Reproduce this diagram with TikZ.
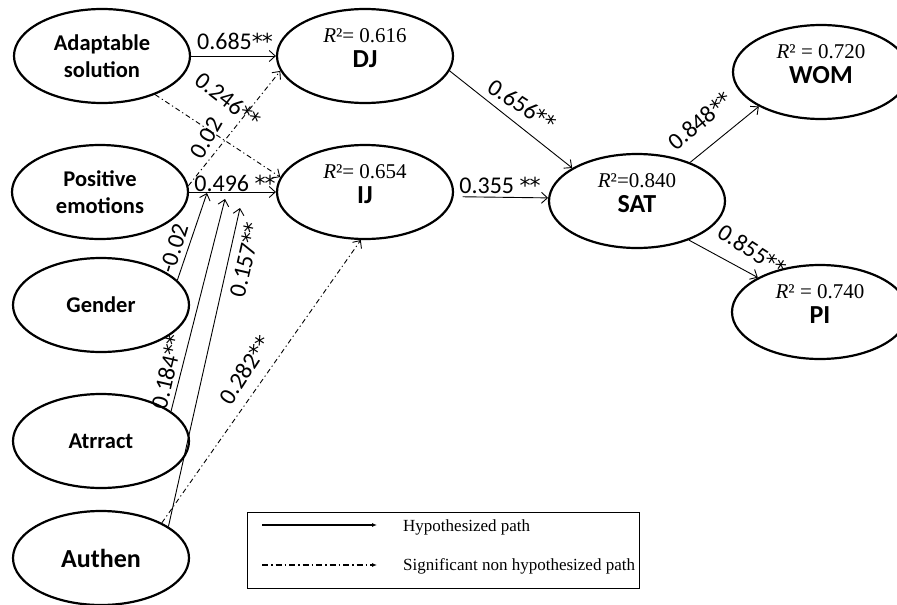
\documentclass[tikz,border=0pt]{standalone}
\usepackage{fontspec}
\setmainfont{Carlito}
\newfontfamily\timesfont{Liberation Serif}
\newfontfamily\starfont{DejaVu Sans}
\usepackage{tikz}
\usetikzlibrary{shapes.geometric}
\usetikzlibrary{arrows.meta}
\usetikzlibrary{calc}
\newcommand{\sigstars}{{\starfont\fontsize{22}{22}\selectfont*\kern-1pt*}}
\tikzset{
	latent/.style={ellipse, draw, line width=2.2pt, minimum width=176pt, minimum height=94pt, inner sep=0pt, align=center, font=\fontsize{22.5}{27}\selectfont\bfseries},
	rsq/.style={inner sep=0pt, font=\timesfont\fontsize{21}{23}\selectfont},
	cname/.style={inner sep=0pt, font=\fontsize{26}{28}\selectfont\bfseries},
	hyp/.style={line width=0.9pt, -{Straight Barb[length=6pt,width=11pt]}},
	nonhyp/.style={hyp, dash pattern=on 5pt off 3pt on 1.2pt off 3pt},
	coef/.style={inner sep=0pt, font=\fontsize{24}{26}\selectfont},
	legtext/.style={anchor=west, inner sep=0pt, font=\timesfont\fontsize{17}{19}\selectfont},
}

\begin{document}
\begin{tikzpicture}[x=1pt, y=-1pt]
	\useasboundingbox (0,0) rectangle (897,605);

	% exogenous constructs
	\node[latent] (adapt) at (102,56) {Adaptable\\solution};
	\node[latent] (posemo) at (100,192) {Positive\\emotions};
	\node[latent] (gender) at (101,305) {Gender};
	\node[latent] (atrract) at (101,441) {Atrract};
	\node[latent, font=\fontsize{26}{28}\selectfont\bfseries] (authen) at (101,558) {Authen};

	% endogenous constructs
	\node[latent] (dj) at (365,56) {};
		\node[rsq] (djr) at ($(dj)+(0,-20)$) {{\itshape R}²= 0.616};
		\node[cname] (djn) at ($(dj)+(0,3)$) {DJ};
	\node[latent] (ij) at (365,192) {};
		\node[rsq] (ijr) at ($(ij)+(0,-20)$) {{\itshape R}²= 0.654};
		\node[cname] (ijn) at ($(ij)+(0,3)$) {IJ};
	\node[latent] (sat) at (637,201) {};
		\node[rsq] (satr) at ($(sat)+(0,-20)$) {{\itshape R}²=0.840};
		\node[cname] (satn) at ($(sat)+(0,3)$) {SAT};
	\node[latent] (wom) at (821,72) {};
		\node[rsq] (womr) at ($(wom)+(0,-20)$) {{\itshape R}² = 0.720};
		\node[cname] (womn) at ($(wom)+(0,3)$) {WOM};
	\node[latent] (pi) at (820,312) {};
		\node[rsq] (pir) at ($(pi)+(0,-20)$) {{\itshape R}² = 0.740};
		\node[cname] (pin) at ($(pi)+(0,3)$) {PI};

	% {Adaptable -> DJ, IJ}
	\draw[hyp] (adapt) -- (dj);
	\node[coef] (c1) at (235,41) {0.685\sigstars};
	\draw[nonhyp] (adapt.-36) -- (ij.170);
	\node[coef, rotate=-38] (c2) at (228,100) {0.246\sigstars};

	% {Positive -> DJ, IJ}
	\draw[nonhyp] (posemo.4) -- (dj.190);
	\node[coef, rotate=60] (c3) at (206,138) {0.02};
	\draw[hyp] (posemo) -- (ij);
	\node[coef] (c4) at (235,183) {0.496 \sigstars};

	% moderators onto Positive -> IJ
	\coordinate (m1) at (207,193);
	\coordinate (m2) at (225,199);
	\coordinate (m3) at (240,208);
	\draw[hyp] (gender.18) -- (m1);
	\node[coef, rotate=73] (c5) at (174,248) {-0.02};
	\draw[hyp] (atrract.23) -- (m2);
	\node[coef, rotate=77] (c6) at (167,372) {0.184\sigstars};
	\draw[hyp] (authen.25) -- (m3);
	\node[coef, rotate=77] (c7) at (245,260) {0.157\sigstars};

	% {Authen -> IJ}
	\draw[nonhyp] (authen.30) -- (ij.265);
	\node[coef, rotate=57] (c8) at (245,370) {0.282\sigstars};

	% {DJ, IJ -> SAT}
	\draw[hyp] (dj.-10) -- (sat.153);
	\node[coef, rotate=-33] (c9) at (522,105) {0.656\sigstars};
	\draw[hyp, shorten <=9pt] (ij.-3) -- (sat.178);
	\node[coef] (c10) at (500,185) {0.355 \sigstars};

	% {SAT -> WOM, PI}
	\draw[hyp] (sat.36) -- (wom.209);
	\node[coef, rotate=40] (c11) at (700,121) {0.848\sigstars};
	\draw[hyp] (sat.-37) -- (pi.151);
	\node[coef, rotate=-33] (c12) at (752,250) {0.855\sigstars};

	% legend
	\node[draw, line width=1pt, minimum width=392pt, minimum height=76pt, inner sep=0pt] (legend) at (443,550) {};
	\coordinate (la) at (262,525);
	\coordinate (lb) at (377,525);
	\coordinate (lc) at (262,565);
	\coordinate (ld) at (377,565);
	\draw[line width=1.4pt, -{Latex[length=5pt,width=4pt]}] (la) -- (lb);
	\draw[line width=1.2pt, dash pattern=on 6pt off 3pt on 1.5pt off 3pt, -{Latex[length=5pt,width=4pt]}] (lc) -- (ld);
	\node[legtext] (lt1) at (403,527) {Hypothesized path};
	\node[legtext] (lt2) at (403,566) {Significant non hypothesized path};
\end{tikzpicture}
\end{document}
